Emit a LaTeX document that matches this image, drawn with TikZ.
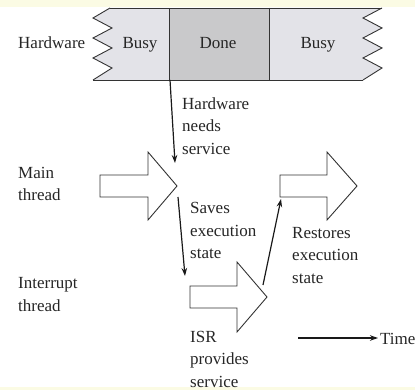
\documentclass[tikz,border=0pt]{standalone}
\usepackage{fontspec}
\setmainfont{Liberation Serif}
\usetikzlibrary{arrows.meta}
\definecolor{busyfill}{HTML}{E3E3E8}
\definecolor{donefill}{HTML}{C9C9CB}
\definecolor{edge}{HTML}{333333}
\definecolor{paleyellow}{HTML}{FBFBE4}
\begin{document}
\begin{tikzpicture}[x=1pt,y=-1pt,
  txt/.style={inner sep=0pt,anchor=base west,align=left,font=\fontsize{17}{22.5}\selectfont,text=black!85},
  ctxt/.style={inner sep=0pt,anchor=base,font=\fontsize{17}{22.5}\selectfont,text=black!85},
  blockarrow/.style={draw=edge,line width=0.9pt,fill=white,line join=miter},
  conn/.style={draw=black!90,line width=1.2pt,-{Stealth[length=8pt,width=5.5pt]}},
  band/.style={draw=edge,line width=0.9pt}]
\useasboundingbox (0,0) rectangle (415,390);
\fill[paleyellow] (0,0) rectangle (415,7);
\fill[paleyellow] (0,387) rectangle (415,390);
% band fills
\fill[busyfill] (110,8) -- (93,18) -- (112,28) -- (93,38) -- (112,48) -- (93,58) -- (112,68) -- (93,80) -- (169,80) -- (169,8) -- cycle;
\fill[donefill] (169,8) rectangle (269,80);
\fill[busyfill] (269,8) -- (382,8) -- (363,18) -- (382,28) -- (363,38) -- (382,48) -- (363,58) -- (382,68) -- (363,80) -- (269,80) -- cycle;
% band outlines
\draw[band] (110,8) -- (93,18) -- (112,28) -- (93,38) -- (112,48) -- (93,58) -- (112,68) -- (93,80);
\draw[band] (382,8) -- (363,18) -- (382,28) -- (363,38) -- (382,48) -- (363,58) -- (382,68) -- (363,80);
\draw[band] (110,8) -- (382,8);
\draw[band] (93,80) -- (363,80);
\draw[band] (169,8) -- (169,80);
\draw[band] (269,8) -- (269,80);
% band labels
\node[txt] (hwlabel) at (18,49) {Hardware};
\node[ctxt] (busy1) at (140,49) {Busy};
\node[ctxt] (done) at (218,49) {Done};
\node[ctxt] (busy2) at (318,49) {Busy};
% thread labels (anchor = baseline of last line)
\node[txt] (mainlabel) at (18,201) {Main\\thread};
\node[txt] (intlabel) at (18,311) {Interrupt\\thread};
% block arrows
\draw[blockarrow] (100,175) -- (148,175) -- (148,152) -- (177,186) -- (148,220) -- (148,197) -- (100,197) -- cycle;
\draw[blockarrow] (190,286) -- (237,286) -- (237,262) -- (267,297) -- (237,332) -- (237,308) -- (190,308) -- cycle;
\draw[blockarrow] (280,175) -- (327,175) -- (327,152) -- (357,186) -- (327,220) -- (327,197) -- (280,197) -- cycle;
% event labels (anchor = baseline of last line)
\node[txt] (hwneeds) at (182,154.5) {Hardware\\needs\\service};
\node[txt] (saves) at (190,258.5) {Saves\\execution\\state};
\node[txt] (restores) at (292,283.5) {Restores\\execution\\state};
\node[txt] (isr) at (190,387) {ISR\\provides\\service};
\node[txt] (time) at (380,344) {Time};
% connectors
\coordinate (c1a) at (170,80);
\coordinate (c1b) at (175,163);
\coordinate (c2a) at (178,197);
\coordinate (c2b) at (185,276);
\coordinate (c3a) at (263,285);
\coordinate (c3b) at (281,199);
\coordinate (t1) at (298,338);
\draw[conn] (c1a) -- (c1b);
\draw[conn] (c2a) -- (c2b);
\draw[conn] (c3a) -- (c3b);
\draw[conn] (t1) -- ([xshift=-2pt]time.west |- t1);
\end{tikzpicture}
\end{document}
